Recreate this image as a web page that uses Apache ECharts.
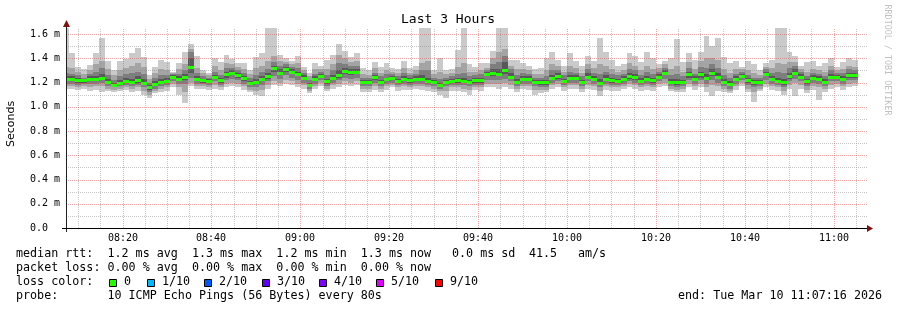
<!DOCTYPE html>
<html><head><meta charset="utf-8">
<script src="https://cdn.jsdelivr.net/npm/echarts@6/dist/echarts.min.js"></script>
<style>html,body{margin:0;padding:0;background:#fff}#c{width:897px;height:310px}</style>
</head><body><div id="c"></div>
<script>
// ---------------- data ----------------
const stepSeconds = 80;
const firstColumnStart = '08:06:43';
const viewStart = '08:07:16';
const viewEnd = '11:07:16';
const yMax = 1.65;
const majorTickLabels = ['08:20','08:40','09:00','09:20','09:40','10:00','10:20','10:40','11:00'];
const yGridValues = [0.1,0.2,0.3,0.4,0.5,0.6,0.7,0.8,0.9,1.0,1.1,1.2,1.3,1.4,1.5,1.6];
const lossLabels = ['0','1/10','2/10','3/10','4/10','5/10','9/10'];
const lossColors = ['#26ff00','#00b8ff','#0059ff','#5e00ff','#7e00ff','#dd00ff','#ff0000'];

const median = [
1.227,1.232,1.218,1.218,1.229,1.232,1.238,1.205,1.180,1.199,
1.216,1.205,1.221,1.199,1.161,1.188,1.205,1.216,1.249,1.229,
1.243,1.331,1.227,1.218,1.216,1.249,1.218,1.268,1.282,1.260,
1.235,1.194,1.207,1.227,1.254,1.317,1.282,1.312,1.290,1.271,
1.240,1.180,1.229,1.257,1.210,1.235,1.262,1.295,1.284,1.290,
1.207,1.207,1.243,1.205,1.227,1.235,1.216,1.229,1.221,1.229,
1.229,1.213,1.205,1.180,1.202,1.216,1.221,1.213,1.205,1.221,
1.221,1.270,1.282,1.270,1.304,1.249,1.207,1.232,1.232,1.205,
1.202,1.202,1.235,1.254,1.213,1.238,1.238,1.205,1.249,1.232,
1.199,1.232,1.221,1.213,1.232,1.254,1.243,1.216,1.229,1.218,
1.249,1.282,1.202,1.202,1.205,1.268,1.229,1.268,1.240,1.276,
1.249,1.207,1.191,1.227,1.257,1.221,1.202,1.205,1.268,1.232,
1.213,1.202,1.254,1.282,1.246,1.210,1.235,1.227,1.207,1.246,
1.246,1.232,1.260,1.260];
const pingHi = [
1.65,1.44,1.33,1.31,1.345,1.44,1.565,1.378,1.304,1.378,
1.392,1.441,1.482,1.414,1.262,1.331,1.386,1.372,1.290,1.364,
1.455,1.518,1.419,1.304,1.276,1.400,1.372,1.427,1.392,1.364,
1.359,1.304,1.414,1.441,1.65,1.65,1.43,1.40,1.38,1.42,
1.33,1.28,1.36,1.34,1.39,1.43,1.52,1.46,1.41,1.44,
1.32,1.30,1.37,1.33,1.36,1.32,1.31,1.38,1.32,1.34,
1.65,1.65,1.30,1.40,1.30,1.31,1.47,1.65,1.35,1.33,
1.36,1.36,1.46,1.65,1.65,1.39,1.39,1.36,1.34,1.31,
1.32,1.40,1.45,1.39,1.34,1.44,1.38,1.34,1.42,1.38,
1.57,1.45,1.39,1.34,1.35,1.44,1.42,1.37,1.45,1.40,
1.35,1.38,1.40,1.56,1.37,1.44,1.39,1.45,1.58,1.50,
1.57,1.41,1.36,1.38,1.33,1.38,1.35,1.30,1.36,1.39,
1.65,1.65,1.45,1.42,1.34,1.37,1.38,1.34,1.36,1.40,
1.33,1.37,1.40,1.39];
const ping9 = [
1.33,1.32,1.29,1.27,1.30,1.35,1.38,1.31,1.26,1.30,
1.32,1.34,1.36,1.33,1.23,1.28,1.31,1.30,1.28,1.31,
1.35,1.48,1.32,1.28,1.26,1.34,1.30,1.36,1.35,1.33,
1.31,1.27,1.32,1.34,1.38,1.42,1.38,1.37,1.35,1.36,
1.30,1.25,1.31,1.31,1.31,1.35,1.43,1.40,1.37,1.38,
1.27,1.26,1.32,1.28,1.30,1.29,1.28,1.32,1.28,1.30,
1.36,1.38,1.27,1.29,1.27,1.28,1.33,1.36,1.29,1.29,
1.30,1.32,1.40,1.45,1.48,1.34,1.31,1.31,1.30,1.27,
1.27,1.30,1.35,1.34,1.29,1.34,1.32,1.28,1.35,1.32,
1.35,1.34,1.31,1.29,1.30,1.36,1.34,1.30,1.34,1.31,
1.32,1.35,1.31,1.34,1.29,1.37,1.31,1.38,1.40,1.40,
1.39,1.31,1.28,1.31,1.31,1.30,1.28,1.26,1.33,1.32,
1.36,1.35,1.37,1.37,1.31,1.29,1.31,1.30,1.29,1.34,
1.30,1.31,1.34,1.33];
const ping8 = [
1.28,1.27,1.26,1.24,1.27,1.29,1.32,1.26,1.22,1.25,
1.27,1.28,1.29,1.27,1.20,1.24,1.26,1.26,1.27,1.27,
1.30,1.45,1.28,1.25,1.24,1.29,1.26,1.32,1.32,1.30,
1.28,1.24,1.26,1.29,1.31,1.37,1.34,1.35,1.33,1.32,
1.28,1.22,1.27,1.29,1.26,1.30,1.36,1.35,1.34,1.34,
1.24,1.24,1.28,1.25,1.27,1.27,1.25,1.28,1.26,1.27,
1.30,1.30,1.24,1.23,1.24,1.25,1.27,1.28,1.25,1.26,
1.27,1.30,1.35,1.37,1.42,1.31,1.26,1.28,1.27,1.24,
1.24,1.25,1.30,1.30,1.26,1.29,1.28,1.25,1.31,1.28,
1.27,1.29,1.27,1.26,1.27,1.31,1.30,1.26,1.29,1.27,
1.29,1.32,1.26,1.27,1.25,1.32,1.27,1.33,1.32,1.35,
1.32,1.26,1.24,1.27,1.29,1.26,1.24,1.24,1.31,1.28,
1.29,1.28,1.32,1.34,1.29,1.25,1.28,1.27,1.25,1.30,
1.28,1.28,1.31,1.30];
const ping7 = [
1.25,1.25,1.24,1.23,1.25,1.25,1.27,1.23,1.20,1.22,
1.24,1.23,1.25,1.23,1.18,1.21,1.23,1.24,1.26,1.25,
1.27,1.40,1.25,1.23,1.23,1.26,1.24,1.29,1.30,1.28,
1.25,1.21,1.23,1.25,1.28,1.34,1.31,1.33,1.31,1.29,
1.26,1.20,1.25,1.27,1.23,1.26,1.30,1.32,1.31,1.31,
1.22,1.22,1.26,1.22,1.24,1.25,1.23,1.25,1.24,1.25,
1.26,1.24,1.22,1.20,1.22,1.23,1.24,1.24,1.22,1.24,
1.24,1.29,1.31,1.31,1.37,1.28,1.23,1.25,1.25,1.22,
1.22,1.22,1.26,1.28,1.23,1.26,1.26,1.22,1.28,1.25,
1.23,1.26,1.24,1.23,1.25,1.28,1.27,1.24,1.25,1.24,
1.27,1.30,1.23,1.23,1.22,1.29,1.25,1.29,1.27,1.31,
1.28,1.23,1.21,1.25,1.27,1.24,1.22,1.22,1.29,1.25,
1.24,1.23,1.28,1.31,1.27,1.23,1.26,1.25,1.23,1.27,
1.26,1.25,1.28,1.28];
const ping4 = [
1.21,1.21,1.20,1.20,1.21,1.21,1.22,1.19,1.17,1.18,
1.20,1.19,1.20,1.18,1.14,1.17,1.19,1.20,1.23,1.21,
1.22,1.28,1.21,1.20,1.20,1.23,1.20,1.24,1.26,1.24,
1.21,1.18,1.19,1.21,1.23,1.29,1.26,1.29,1.27,1.25,
1.22,1.17,1.21,1.24,1.19,1.22,1.24,1.27,1.26,1.27,
1.19,1.19,1.22,1.19,1.21,1.22,1.20,1.21,1.20,1.21,
1.21,1.20,1.19,1.17,1.19,1.20,1.20,1.20,1.19,1.20,
1.20,1.25,1.25,1.25,1.27,1.23,1.19,1.21,1.21,1.19,
1.18,1.18,1.22,1.23,1.20,1.22,1.22,1.19,1.23,1.21,
1.18,1.21,1.20,1.20,1.21,1.23,1.22,1.20,1.21,1.20,
1.23,1.26,1.19,1.18,1.19,1.24,1.21,1.24,1.22,1.25,
1.23,1.19,1.17,1.21,1.24,1.20,1.18,1.19,1.25,1.21,
1.20,1.18,1.23,1.26,1.23,1.19,1.22,1.21,1.19,1.23,
1.23,1.21,1.24,1.24];
const ping3 = [
1.19,1.19,1.18,1.19,1.19,1.19,1.20,1.17,1.16,1.17,
1.18,1.17,1.18,1.16,1.12,1.15,1.17,1.18,1.21,1.19,
1.19,1.24,1.19,1.19,1.18,1.21,1.18,1.22,1.23,1.22,
1.19,1.16,1.16,1.18,1.21,1.25,1.23,1.26,1.24,1.22,
1.20,1.15,1.19,1.22,1.17,1.20,1.22,1.24,1.23,1.24,
1.17,1.17,1.20,1.17,1.19,1.20,1.18,1.19,1.18,1.19,
1.19,1.18,1.17,1.15,1.17,1.18,1.18,1.18,1.17,1.18,
1.18,1.22,1.22,1.22,1.23,1.21,1.17,1.19,1.19,1.17,
1.16,1.16,1.20,1.21,1.18,1.20,1.20,1.17,1.21,1.19,
1.16,1.19,1.18,1.18,1.19,1.21,1.20,1.18,1.19,1.18,
1.21,1.23,1.17,1.16,1.17,1.22,1.19,1.22,1.19,1.22,
1.20,1.17,1.15,1.19,1.22,1.18,1.16,1.17,1.22,1.19,
1.18,1.16,1.21,1.23,1.21,1.17,1.20,1.19,1.17,1.21,
1.21,1.19,1.22,1.22];
const ping2 = [
1.17,1.17,1.16,1.17,1.16,1.17,1.17,1.15,1.14,1.15,
1.16,1.15,1.16,1.13,1.10,1.13,1.15,1.16,1.19,1.16,
1.12,1.20,1.17,1.17,1.16,1.18,1.16,1.19,1.20,1.19,
1.17,1.14,1.13,1.14,1.18,1.21,1.20,1.22,1.21,1.19,
1.18,1.13,1.17,1.20,1.15,1.18,1.19,1.21,1.20,1.21,
1.15,1.15,1.17,1.15,1.17,1.18,1.16,1.17,1.16,1.17,
1.17,1.16,1.15,1.13,1.13,1.16,1.16,1.15,1.14,1.16,
1.16,1.19,1.19,1.19,1.20,1.18,1.15,1.17,1.17,1.14,
1.14,1.14,1.18,1.19,1.16,1.18,1.18,1.15,1.18,1.17,
1.13,1.17,1.16,1.16,1.17,1.19,1.18,1.16,1.17,1.16,
1.19,1.20,1.15,1.14,1.15,1.19,1.17,1.19,1.16,1.18,
1.17,1.15,1.13,1.17,1.20,1.15,1.12,1.15,1.19,1.17,
1.16,1.13,1.18,1.20,1.18,1.14,1.17,1.16,1.15,1.18,
1.19,1.17,1.19,1.20];
const pingLo = [
1.15,1.15,1.14,1.15,1.13,1.14,1.12,1.13,1.12,1.13,
1.14,1.12,1.13,1.10,1.07,1.11,1.12,1.13,1.16,1.10,
1.03,1.17,1.15,1.15,1.14,1.15,1.14,1.16,1.17,1.16,
1.14,1.12,1.10,1.09,1.15,1.18,1.17,1.19,1.18,1.16,
1.15,1.11,1.15,1.17,1.13,1.15,1.16,1.18,1.17,1.18,
1.12,1.12,1.14,1.12,1.14,1.16,1.13,1.14,1.14,1.15,
1.14,1.13,1.12,1.10,1.07,1.13,1.13,1.12,1.10,1.14,
1.13,1.16,1.16,1.15,1.16,1.15,1.12,1.15,1.14,1.10,
1.11,1.12,1.15,1.16,1.13,1.15,1.15,1.12,1.15,1.14,
1.09,1.14,1.13,1.13,1.15,1.16,1.15,1.13,1.14,1.13,
1.16,1.17,1.13,1.12,1.12,1.16,1.14,1.16,1.12,1.09,
1.13,1.12,1.11,1.14,1.17,1.12,1.04,1.13,1.16,1.14,
1.13,1.10,1.15,1.09,1.15,1.11,1.14,1.06,1.12,1.15,
1.16,1.14,1.16,1.17];

// ---------------- layout / style ----------------
const MONO = '"DejaVu Sans Mono", monospace';
const smokeShades = ['#cacaca', '#a4a4a4', '#7e7e7e', '#585858'];
const legendSwatchX = [109, 147, 204, 262, 319, 376, 435];
const minorGridColor = 'rgba(140,140,140,0.5)';
const majorGridColor = 'rgba(222,80,80,0.5)';

const toSec = s => { const p = s.split(':').map(Number); return p[0] * 3600 + p[1] * 60 + (p[2] || 0); };
const xMin = toSec(viewStart), xMax = toSec(viewEnd);
const colStart = toSec(firstColumnStart);

const smokeData = median.map((m, j) => [
  colStart + j * stepSeconds, colStart + (j + 1) * stepSeconds,
  pingLo[j], ping2[j], ping3[j], ping4[j], m, ping7[j], ping8[j], ping9[j], pingHi[j]
]);

const vGrid = [];
for (let t = Math.ceil(xMin / 300) * 300; t < xMax; t += 300) vGrid.push([t, t % 1200 === 0 ? 1 : 0]);
const hGrid = yGridValues.map(v => [v, Math.round(v * 10) % 2 === 0 ? 1 : 0]);
const xLabelData = majorTickLabels.map((s, i) => [toSec(s), i]);

function renderSmoke(params, api) {
  const t0 = api.value(0), t1 = api.value(1);
  const x0 = Math.round(api.coord([t0, 0])[0]);
  const x1 = Math.round(api.coord([t1, 0])[0]);
  const pairs = [[2, 10], [3, 9], [4, 8], [5, 7]];
  const children = pairs.map((p, k) => {
    const yTop = Math.round(api.coord([t0, api.value(p[1])])[1]);
    const yBot = Math.round(api.coord([t0, api.value(p[0])])[1]);
    return { type: 'rect', shape: { x: x0, y: yTop, width: x1 - x0, height: yBot - yTop }, style: { fill: smokeShades[k] } };
  });
  return { type: 'group', children };
}
function renderMedian(params, api) {
  const t0 = api.value(0), t1 = api.value(1);
  const x0 = Math.round(api.coord([t0, 0])[0]);
  const x1 = Math.round(api.coord([t1, 0])[0]);
  const y = Math.round(api.coord([t0, api.value(6)])[1]);
  return { type: 'rect', shape: { x: x0, y: y - 1, width: x1 - x0, height: 3 }, style: { fill: lossColors[0] } };
}
function renderVGrid(params, api) {
  const x = Math.round(api.coord([api.value(0), 0])[0]) + 0.5;
  const yb = api.coord([xMin, 0])[1], yt = api.coord([xMin, yMax])[1];
  return { type: 'line', shape: { x1: x, y1: yb, x2: x, y2: yt },
    style: { stroke: api.value(1) ? majorGridColor : minorGridColor, lineWidth: 1, lineDash: [1, 1] } };
}
function renderHGrid(params, api) {
  const y = Math.round(api.coord([xMin, api.value(0)])[1]) + 0.5;
  const xl = api.coord([xMin, 0])[0], xr = api.coord([xMax, 0])[0] + 2;
  return { type: 'line', shape: { x1: xl, y1: y, x2: xr, y2: y },
    style: { stroke: api.value(1) ? majorGridColor : minorGridColor, lineWidth: 1, lineDash: [1, 1] } };
}
function renderXLabel(params, api) {
  const p = api.coord([api.value(0), 0]);
  return { type: 'text', x: Math.round(p[0]), y: p[1] + 10,
    style: { text: majorTickLabels[params.dataIndex], fill: '#000', font: '10px ' + MONO,
      align: 'center', verticalAlign: 'middle', textAlign: 'center', textVerticalAlign: 'middle' } };
}

function txt(text, x, y, extra) {
  return Object.assign({ type: 'text', z: 100, x: x, y: y,
    style: { text: text, x: 0, y: 0, fill: '#000', font: '11.7px ' + MONO,
      align: 'left', verticalAlign: 'middle', textAlign: 'left', textVerticalAlign: 'middle' } }, extra || {});
}

const graphics = [
  // axes
  { type: 'line', z: 100, shape: { x1: 66.5, y1: 232, x2: 66.5, y2: 25 }, style: { stroke: '#202020', lineWidth: 1 } },
  { type: 'polygon', z: 101, shape: { points: [[63, 27], [70, 27], [66.5, 20]] }, style: { fill: '#801010' } },
  { type: 'line', z: 100, shape: { x1: 62, y1: 228.5, x2: 868, y2: 228.5 }, style: { stroke: '#000', lineWidth: 1 } },
  { type: 'polygon', z: 101, shape: { points: [[867, 225], [867, 232], [873, 228.5]] }, style: { fill: '#801010' } },
  // title and labels
  { type: 'text', z: 100, x: 448, y: 20, style: { text: 'Last 3 Hours', fill: '#000', font: '13px ' + MONO,
      align: 'center', verticalAlign: 'middle', textAlign: 'center', textVerticalAlign: 'middle' } },
  { type: 'text', z: 100, x: 11, y: 124, rotation: Math.PI / 2, style: { text: 'Seconds', fill: '#000', font: '11px "DejaVu Sans", sans-serif',
      align: 'center', verticalAlign: 'middle', textAlign: 'center', textVerticalAlign: 'middle' } },
  { type: 'text', z: 100, x: 887, y: 60, rotation: -Math.PI / 2, style: { text: 'RRDTOOL / TOBI OETIKER', fill: '#c0c0c0', font: '8.4px ' + MONO,
      align: 'center', verticalAlign: 'middle', textAlign: 'center', textVerticalAlign: 'middle' } },
  // legend lines
  txt('median rtt:  1.2 ms avg  1.3 ms max  1.2 ms min  1.3 ms now', 16, 254),
  txt('0.0 ms sd', 452, 254),
  txt('41.5', 529, 254),
  txt('am/s', 578, 254),
  txt('packet loss: 0.00 % avg  0.00 % max  0.00 % min  0.00 % now', 16, 268),
  txt('loss color:', 16, 282),
  txt('probe:       10 ICMP Echo Pings (56 Bytes) every 80s', 16, 296),
  txt('end: Tue Mar 10 11:07:16 2026', 678, 296)
];
lossLabels.forEach((lab, i) => {
  graphics.push({ type: 'rect', z: 100, shape: { x: legendSwatchX[i] + 0.5, y: 279.5, width: 7, height: 7 },
    style: { fill: lossColors[i], stroke: '#000', lineWidth: 1 } });
  graphics.push(txt(lab, legendSwatchX[i] + 15, 282));
});

const chart = echarts.init(document.getElementById('c'), null, { renderer: 'canvas' });
chart.setOption({
  backgroundColor: '#ffffff',
  animation: false,
  grid: { left: 66, right: 31, top: 28, bottom: 82, containLabel: false },
  xAxis: { type: 'value', min: xMin, max: xMax, show: true,
    axisLine: { show: false }, axisTick: { show: false }, axisLabel: { show: false }, splitLine: { show: false } },
  yAxis: { type: 'value', min: 0, max: yMax, interval: 0.2,
    axisLine: { show: false }, axisTick: { show: false }, splitLine: { show: false },
    axisLabel: { show: true, align: 'left', margin: 36, color: '#000', fontFamily: 'DejaVu Sans Mono', fontSize: 10,
      showMaxLabel: false,
      formatter: v => v === 0 ? '0.0' : (v > 1.61 ? '' : v.toFixed(1) + ' m') } },
  series: [
    { type: 'custom', name: 'smoke', data: smokeData, renderItem: renderSmoke, clip: true, silent: true, z: 2 },
    { type: 'custom', name: 'vgrid', data: vGrid, renderItem: renderVGrid, clip: false, silent: true, z: 3 },
    { type: 'custom', name: 'hgrid', data: hGrid, renderItem: renderHGrid, clip: false, silent: true, z: 3 },
    { type: 'custom', name: 'median', data: smokeData, renderItem: renderMedian, clip: true, silent: true, z: 4 },
    { type: 'custom', name: 'xlabels', data: xLabelData, renderItem: renderXLabel, clip: false, silent: true, z: 5 }
  ],
  graphic: { elements: graphics }
});
</script>
</body></html>
